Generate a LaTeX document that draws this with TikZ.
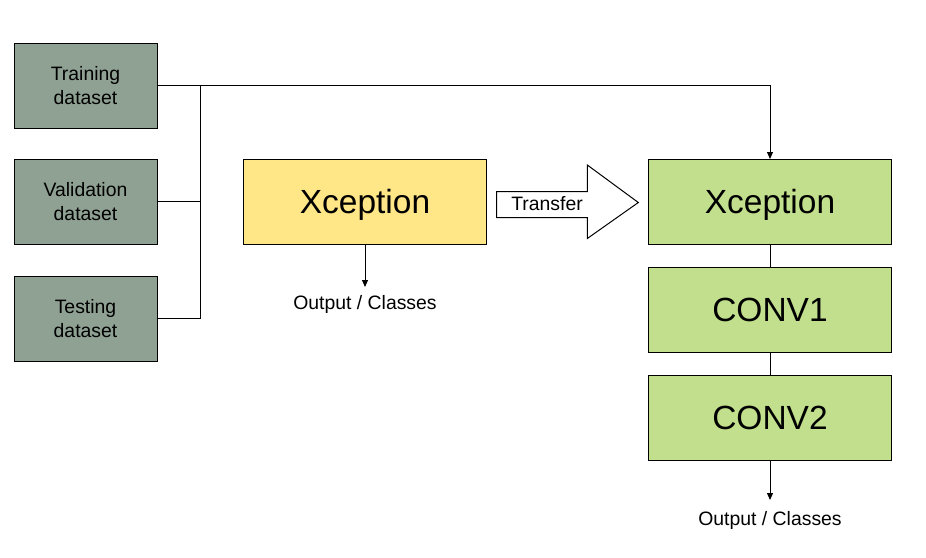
\documentclass[tikz,border=0pt]{standalone}
\usepackage{fontspec}
\setmainfont{Liberation Sans}
\usetikzlibrary{arrows.meta}
\definecolor{dsgray}{RGB}{143,161,147}
\definecolor{xyellow}{RGB}{255,230,134}
\definecolor{lgreen}{RGB}{193,223,140}
\tikzset{
  dsbox/.style={draw=black, line width=1pt, fill=dsgray, minimum width=143pt, minimum height=85pt, inner sep=0pt, align=center, font=\fontsize{19.4}{24}\selectfont},
  bigbox/.style={draw=black, line width=1pt, minimum width=243pt, minimum height=85pt, inner sep=0pt, text height=22pt, text depth=0pt, font=\fontsize{33.5}{38}\selectfont},
  conn/.style={line width=1pt, draw=black},
  arr/.style={conn, -{Triangle[length=7pt,width=6pt]}},
  lbl/.style={font=\fontsize{19.4}{23}\selectfont, inner sep=0pt}
}
\begin{document}
\begin{tikzpicture}[x=1pt,y=-1pt]
\useasboundingbox (0,0) rectangle (926,557);
% datasets
\node[dsbox] (train) at (85.5,85.5) {Training\\dataset};
\node[dsbox] (valid) at (85.5,201.5) {Validation\\dataset};
\node[dsbox] (test)  at (85.5,318.5) {Testing\\dataset};
% yellow Xception
\node[bigbox, fill=xyellow] (xy) at (365,202) {Xception};
\node[lbl] (outy) at (365,304) {Output / Classes};
% green stack
\node[bigbox, fill=lgreen] (xg) at (770,202) {Xception};
\node[bigbox, fill=lgreen] (c1) at (770,310) {CONV1};
\node[bigbox, fill=lgreen] (c2) at (770,418) {CONV2};
\node[lbl] (outg) at (770,520) {Output / Classes};
% bus
\coordinate (bt) at (200.5,85.5);
\coordinate (bb) at (200.5,318.5);
\coordinate (corner) at (770,85.5);
\draw[conn] (train.east) -- (bt) -- (bb) -- (test.east);
\draw[conn] (valid.east) -- (200.5,201.5);
\draw[arr] (bt) -- (corner) -- (xg.north);
% arrows
\draw[arr] (xy.south) -- (365,287);
\draw[conn] (xg.south) -- (c1.north);
\draw[conn] (c1.south) -- (c2.north);
\draw[arr] (c2.south) -- (770,500);
% transfer arrow
\draw[line width=1pt, fill=white] (496.7,191.5) -- (587.3,191.5) -- (587.3,165) -- (638.3,202.5) -- (587.3,238.5) -- (587.3,217.5) -- (496.7,217.5) -- cycle;
\node[lbl] (tr) at (547,204) {Transfer};
\end{tikzpicture}
\end{document}
